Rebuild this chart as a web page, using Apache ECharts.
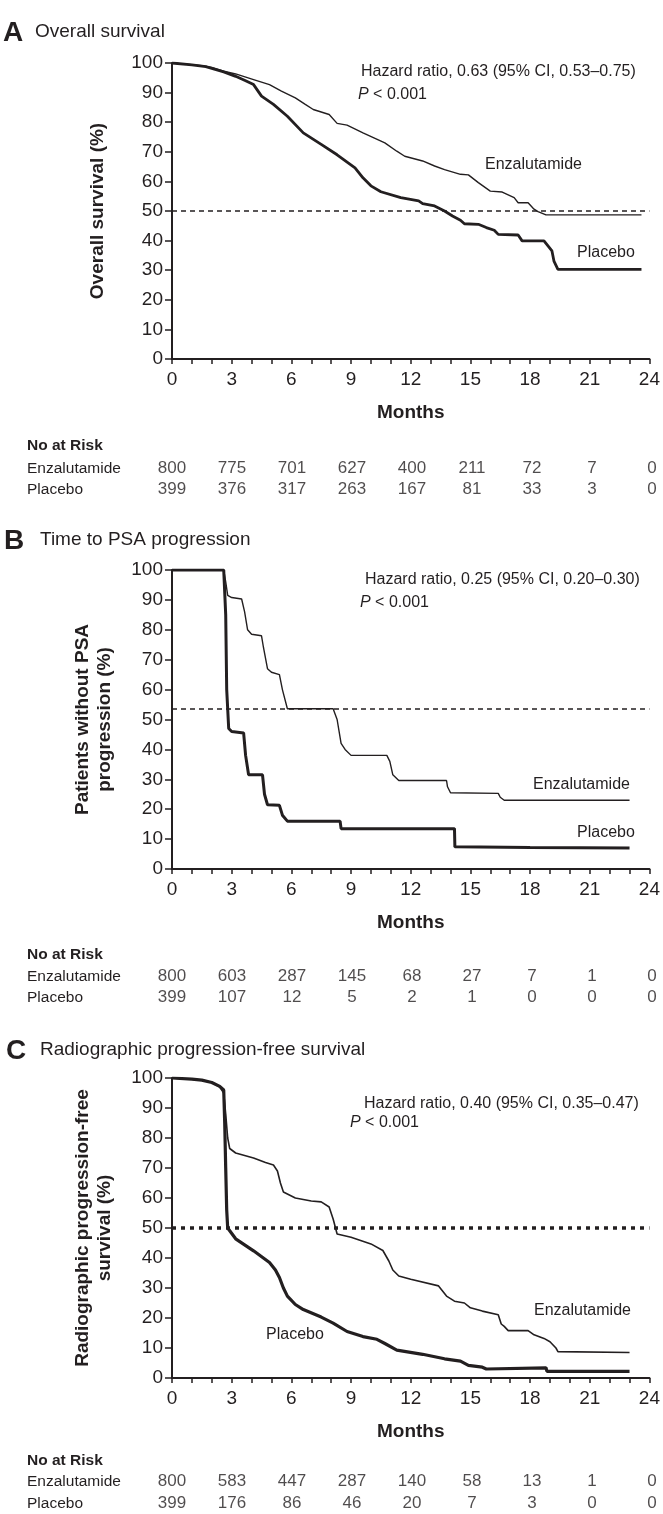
<!DOCTYPE html>
<html>
<head>
<meta charset="utf-8">
<script src="https://cdn.jsdelivr.net/npm/echarts@6/dist/echarts.min.js"></script>
<style>
  html, body { margin: 0; padding: 0; background: #fff; }
  #chart { width: 663px; height: 1514px; }
</style>
</head>
<body>
<div id="chart"></div>
<script>
// x positions of the at-risk counts (months)
const riskMonths = [0, 3, 6, 9, 12, 15, 18, 21, 24];
const arms = ["Enzalutamide", "Placebo"];

// A - overall survival, [month, %]
const osEnz = [[0,100],[0.5,99.7],[1,99.4],[1.5,99.1],[2,98.5],[2.6,97.2],[3.2,96.3],[4.1,94.4],[4.9,92.7],[5.5,90.5],[6.2,88.2],[6.7,86],[7.1,84.3],[7.9,82.6],[8.3,79.6],[8.8,79],[9.6,76.4],[10.7,73],[11.3,70.2],[11.7,68.5],[12.6,66.9],[13.2,65.2],[13.7,64],[14.5,62.4],[14.9,62.2],[15.4,59.6],[16,56.7],[16.6,56.4],[17.2,54.5],[17.4,52.8],[17.9,52.8],[18.2,50.6],[18.4,49.8],[18.8,48.7],[23.6,48.7]];
const osPbo = [[0,100],[1,99.4],[1.7,98.8],[2.6,97],[3.2,95.5],[3.7,94],[4.1,92.7],[4.5,88.8],[5.1,86],[5.8,82],[6.6,76.4],[7.5,72.5],[8.3,69],[9.2,64.6],[9.6,61.2],[10,58.5],[10.5,56.5],[11.5,54.5],[12.4,53.4],[12.6,52.5],[13.2,51.7],[13.7,50],[14.1,48.3],[14.5,46.9],[14.7,45.7],[15.4,45.5],[15.8,44.4],[16.2,43.5],[16.4,42.1],[17.4,41.9],[17.6,39.9],[18.7,39.9],[18.9,38.2],[19.1,36.5],[19.2,33.1],[19.4,30.3],[23.6,30.3]];

// B - time to PSA progression
const psaEnz = [[0,100],[2.6,100],[2.7,96],[2.8,91.5],[3.0,90.8],[3.5,90.3],[3.65,86],[3.8,80],[4.0,78.5],[4.5,78],[4.6,74],[4.8,67],[5.0,65.8],[5.4,65],[5.55,60],[5.8,53.6],[8.1,53.6],[8.3,50],[8.5,42],[8.7,40],[9.0,38],[10.8,38],[10.95,36],[11.1,31.5],[11.4,29.6],[13.8,29.6],[13.85,27.5],[14.0,25.5],[16.4,25.3],[16.5,24],[16.7,23],[23.0,23]];
const psaPbo = [[0,100],[2.6,100],[2.7,85],[2.75,60],[2.85,47],[3.0,46],[3.6,45.5],[3.7,38],[3.85,31.5],[4.55,31.5],[4.65,25],[4.8,21.5],[5.4,21.3],[5.55,18],[5.8,16],[8.45,16],[8.5,13.5],[14.2,13.5],[14.22,7.4],[18,7.2],[23,7.0]];

// C - radiographic progression-free survival
const rpfsEnz = [[0,100],[1,99.6],[1.5,99.3],[2,98.5],[2.4,97],[2.6,95],[2.7,88],[2.8,80],[2.9,76.5],[3.2,75],[4.1,73.3],[4.7,71.8],[5.1,71],[5.3,69],[5.45,65],[5.6,62],[6.2,60],[7,59],[7.5,58.7],[7.9,57],[8.1,53],[8.3,48],[9.0,46.9],[10.0,44.7],[10.6,42.5],[10.9,39],[11.1,36],[11.4,34],[12.0,32.9],[13.4,30.7],[13.6,29],[13.8,27.3],[14.2,25.6],[14.7,25],[15.0,23.4],[15.6,22.3],[16.4,21.1],[16.55,18],[16.7,17.2],[16.9,15.8],[17.9,15.8],[18.2,14.4],[18.7,13.2],[19.0,12.1],[19.3,10],[19.4,8.8],[23.0,8.5]];
const rpfsPbo = [[0,100],[1,99.6],[1.5,99.3],[2,98.5],[2.4,97.2],[2.6,96],[2.65,85],[2.7,70],[2.75,56],[2.8,50],[3.2,46.4],[4.1,42.4],[4.9,38.5],[5.2,36],[5.4,33.5],[5.6,30],[5.8,27.3],[6.2,24.5],[6.6,22.8],[7.5,20.3],[8.1,18.3],[8.8,15.5],[9.6,13.8],[10.3,12.9],[10.7,11.5],[11.3,9.3],[12.6,7.9],[13.7,6.4],[14.5,5.6],[14.9,4.2],[15.6,3.6],[15.8,3.0],[18.8,3.4],[18.85,2.2],[23.0,2.2]];

// numbers at risk
const riskOsEnz = [800, 775, 701, 627, 400, 211, 72, 7, 0];
const riskOsPbo = [399, 376, 317, 263, 167, 81, 33, 3, 0];
const riskPsaEnz = [800, 603, 287, 145, 68, 27, 7, 1, 0];
const riskPsaPbo = [399, 107, 12, 5, 2, 1, 0, 0, 0];
const riskRpfsEnz = [800, 583, 447, 287, 140, 58, 13, 1, 0];
const riskRpfsPbo = [399, 176, 86, 46, 20, 7, 3, 0, 0];

// horizontal reference (median) lines
const medianLines = [50, 53.5, 50];

const hrTexts = [
  "Hazard ratio, 0.63 (95% CI, 0.53\u20130.75)",
  "Hazard ratio, 0.25 (95% CI, 0.20\u20130.30)",
  "Hazard ratio, 0.40 (95% CI, 0.35\u20130.47)"
];

const FONT = "'Liberation Sans', Arial, Helvetica, sans-serif";
const INK = "#231f20";

const panels = [
  { letter: "A", title: "Overall survival", titleY: 32, letterX: 3, titleX: 35,
    top: 63, h: 296, riskTop: 458, riskH: 42, noRiskY: 446,
    yName: "Overall survival (%)", yGap: 63,
    enz: osEnz, pbo: osPbo, risk: [riskOsEnz, riskOsPbo], ref: medianLines[0],
    dash: { type: [5, 4], width: 1.5 }, enzW: 1.4, pboW: 2.8,
    hr: [361, 72], p: [358, 95], enzLab: [485, 165], pboLab: [577, 253] },
  { letter: "B", title: "Time to PSA progression", titleY: 540, letterX: 4, titleX: 40,
    top: 570, h: 299, riskTop: 966, riskH: 42, noRiskY: 955,
    yName: "Patients without PSA\nprogression (%)", yGap: 56,
    enz: psaEnz, pbo: psaPbo, risk: [riskPsaEnz, riskPsaPbo], ref: medianLines[1],
    dash: { type: [5, 4], width: 1.5 }, enzW: 1.4, pboW: 3,
    hr: [365, 580], p: [360, 603], enzLab: [533, 785], pboLab: [577, 833] },
  { letter: "C", title: "Radiographic progression-free survival", titleY: 1050, letterX: 6, titleX: 40,
    top: 1078, h: 300, riskTop: 1471, riskH: 43, noRiskY: 1461,
    yName: "Radiographic progression-free\nsurvival (%)", yGap: 56,
    enz: rpfsEnz, pbo: rpfsPbo, risk: [riskRpfsEnz, riskRpfsPbo], ref: medianLines[2],
    dash: { type: [4, 5], width: 3.5 }, enzW: 1.6, pboW: 3.2,
    hr: [364, 1104], p: [350, 1123], enzLab: [534, 1311], pboLab: [266, 1335] }
];

const LEFT = 172;
const PW = 480;

const grid = [], xAxis = [], yAxis = [], series = [], graphic = [];

const txt = (x, y, text, size, weight) => ({
  type: "text", x: x, y: y, silent: true,
  style: { text: text, fontSize: size, fontWeight: weight || "normal", fontFamily: FONT,
           fill: INK, verticalAlign: "middle", align: "left" }
});

panels.forEach((p, i) => {
  const mi = 2 * i;      // main plot index
  const ri = 2 * i + 1;  // at-risk table index

  // main plot
  grid.push({ left: LEFT, top: p.top, width: PW, height: p.h });
  xAxis.push({
    type: "value", gridIndex: mi, min: 0, max: 24, interval: 1,
    name: "Months", nameLocation: "middle", nameGap: 44,
    nameTextStyle: { fontFamily: FONT, fontSize: 19, fontWeight: "bold", color: INK },
    axisLine: { show: true, lineStyle: { color: INK, width: 2 } },
    axisTick: { show: true, length: 5, lineStyle: { color: INK, width: 1.5 } },
    axisLabel: { margin: 11, fontFamily: FONT, fontSize: 19, color: INK,
                 formatter: (v) => (v % 3 === 0 ? String(v) : "") },
    splitLine: { show: false }
  });
  yAxis.push({
    type: "value", gridIndex: mi, min: 0, max: 100, interval: 10,
    name: p.yName, nameLocation: "middle", nameGap: p.yGap, nameRotate: 90,
    nameTextStyle: { fontFamily: FONT, fontSize: 19, fontWeight: "bold", color: INK, lineHeight: 22 },
    axisLine: { show: true, lineStyle: { color: INK, width: 2 } },
    axisTick: { show: true, length: 7, lineStyle: { color: INK, width: 1.5 } },
    axisLabel: { margin: 9, fontFamily: FONT, fontSize: 19, color: INK },
    splitLine: { show: false }
  });
  series.push({
    type: "line", name: "Enzalutamide", xAxisIndex: mi, yAxisIndex: mi, data: p.enz,
    showSymbol: false, symbol: "none",
    lineStyle: { color: INK, width: p.enzW },
    markLine: {
      silent: true, symbol: "none", label: { show: false },
      lineStyle: { color: INK, type: p.dash.type, width: p.dash.width },
      data: [{ yAxis: p.ref }]
    },
    z: 3
  });
  series.push({
    type: "line", name: "Placebo", xAxisIndex: mi, yAxisIndex: mi, data: p.pbo,
    showSymbol: false, symbol: "none",
    lineStyle: { color: INK, width: p.pboW },
    z: 2
  });

  // number at risk table
  grid.push({ left: LEFT, top: p.riskTop, width: PW, height: p.riskH });
  xAxis.push({ type: "value", gridIndex: ri, min: 0, max: 24, show: false });
  yAxis.push({
    type: "category", gridIndex: ri, data: arms, inverse: true,
    axisLine: { show: false }, axisTick: { show: false }, splitLine: { show: false },
    axisLabel: { align: "left", margin: LEFT - 27, fontFamily: FONT, fontSize: 15.5, color: INK }
  });
  arms.forEach((arm, k) => {
    series.push({
      type: "scatter", xAxisIndex: ri, yAxisIndex: ri, silent: true,
      data: riskMonths.map((m, j) => [m, arm, p.risk[k][j]]),
      symbol: "circle", symbolSize: 0.1, itemStyle: { color: "#ffffff" },
      label: { show: true, position: "inside", formatter: (d) => String(d.value[2]),
               fontFamily: FONT, fontSize: 17, color: INK }
    });
  });

  // titles and annotations
  graphic.push(txt(p.letterX, p.titleY + 1, p.letter, 28, "bold"));
  graphic.push(txt(p.titleX, p.titleY, p.title, 19));
  graphic.push(txt(27, p.noRiskY, "No at Risk", 15.5, "bold"));
  graphic.push(txt(p.hr[0], p.hr[1], hrTexts[i], 16));
  graphic.push({
    type: "text", x: p.p[0], y: p.p[1], silent: true,
    style: { text: "{i|P} < 0.001", fontSize: 16, fontFamily: FONT, fill: INK,
             verticalAlign: "middle", align: "left",
             rich: { i: { fontStyle: "italic", fontSize: 16, fontFamily: FONT, fill: INK } } }
  });
  graphic.push(txt(p.enzLab[0], p.enzLab[1], "Enzalutamide", 16));
  graphic.push(txt(p.pboLab[0], p.pboLab[1], "Placebo", 16));
});

const chart = echarts.init(document.getElementById("chart"), null, { renderer: "canvas" });
chart.setOption({
  animation: false,
  backgroundColor: "#ffffff",
  grid: grid,
  xAxis: xAxis,
  yAxis: yAxis,
  series: series,
  graphic: graphic
});
</script>
</body>
</html>
